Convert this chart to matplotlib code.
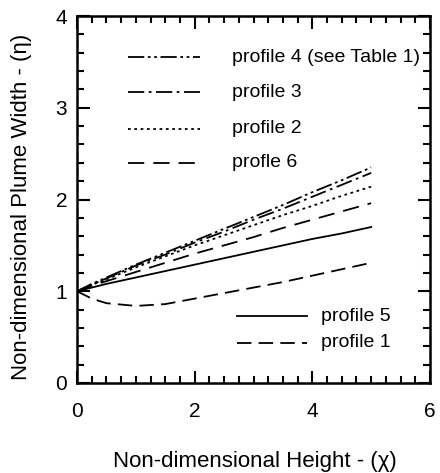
import numpy as np
import matplotlib.pyplot as plt
from matplotlib.ticker import MultipleLocator

plt.rcParams['font.family'] = ['Liberation Sans', 'DejaVu Sans']

# non-dimensional height samples
chi = [0.0, 0.25, 0.5, 1.0, 1.5, 2.0, 2.5, 3.0, 3.5, 4.0, 4.5, 5.0]

# plume width for each profile
eta_p4 = [1.0, 1.08, 1.15, 1.29, 1.42, 1.55, 1.68, 1.81, 1.94, 2.08, 2.21, 2.35]
eta_p3 = [1.0, 1.07, 1.14, 1.28, 1.40, 1.53, 1.65, 1.78, 1.90, 2.03, 2.16, 2.29]
eta_p2 = [1.0, 1.07, 1.13, 1.26, 1.38, 1.50, 1.61, 1.72, 1.83, 1.93, 2.04, 2.14]
eta_p6 = [1.0, 1.06, 1.11, 1.21, 1.31, 1.41, 1.50, 1.59, 1.69, 1.78, 1.87, 1.96]
eta_p5 = [1.0, 1.04, 1.08, 1.15, 1.22, 1.29, 1.36, 1.43, 1.50, 1.57, 1.63, 1.70]
eta_p1 = [1.0, 0.92, 0.87, 0.84, 0.86, 0.92, 0.98, 1.04, 1.10, 1.17, 1.24, 1.31]

labels_top = ['profile 4 (see Table 1)', 'profile 3', 'profile 2', 'profle 6']
labels_bot = ['profile 5', 'profile 1']

lw = 1.3
styles = {
    'p4': (0, (9, 2, 1.5, 2, 1.5, 2)),
    'p3': (0, (9, 2.5, 1.5, 2.5)),
    'p2': (0, (1.5, 2)),
    'p6': (0, (9, 5)),
    'p5': '-',
    'p1': (0, (8, 4)),
}

fig = plt.figure(figsize=(4.4, 4.73), dpi=100)
ax = fig.add_axes([77/440, 1-383/473, 353/440, 367/473])

ax.plot(chi, eta_p4, color='black', lw=lw, linestyle=styles['p4'])
ax.plot(chi, eta_p3, color='black', lw=lw, linestyle=styles['p3'])
ax.plot(chi, eta_p2, color='black', lw=lw, linestyle=styles['p2'])
ax.plot(chi, eta_p6, color='black', lw=lw, linestyle=styles['p6'])
ax.plot(chi, eta_p5, color='black', lw=lw, linestyle=styles['p5'])
ax.plot(chi, eta_p1, color='black', lw=lw, linestyle=styles['p1'])

# hand-drawn key, upper group
top_y = [3.55, 3.17, 2.77, 2.40]
for y, lab, key in zip(top_y, labels_top, ['p4', 'p3', 'p2', 'p6']):
    ax.plot([0.87, 2.09], [y, y], color='black', lw=lw, linestyle=styles[key])
    ax.text(2.63, y, lab, fontsize=14, va='center', ha='left', clip_on=False)

# lower group
bot_y = [0.73, 0.44]
for y, lab, key in zip(bot_y, labels_bot, ['p5', 'p1']):
    ax.plot([2.72, 3.91], [y, y], color='black', lw=lw, linestyle=styles[key])
    ax.text(4.15, y, lab, fontsize=14, va='center', ha='left')

ax.set_xlim(0, 6)
ax.set_ylim(0, 4)
ax.xaxis.set_major_locator(MultipleLocator(2))
ax.xaxis.set_minor_locator(MultipleLocator(0.25))
ax.yaxis.set_major_locator(MultipleLocator(1))
ax.yaxis.set_minor_locator(MultipleLocator(0.2))
ax.tick_params(which='both', direction='in', top=True, right=True, width=1.5)
ax.tick_params(which='major', length=9, labelsize=15)
ax.tick_params(axis='x', which='major', pad=14)
ax.tick_params(axis='y', which='major', pad=7)
ax.tick_params(which='minor', length=5)
for s in ax.spines.values():
    s.set_linewidth(1.8)

ax.set_xlabel('Non-dimensional Height - (χ)', fontsize=16)
ax.set_ylabel('Non-dimensional Plume Width - (η)', fontsize=16)
ax.xaxis.set_label_coords(0.504, -0.185)
ax.yaxis.set_label_coords(-0.127, 0.48)

fig.savefig('out.png', dpi=100)
